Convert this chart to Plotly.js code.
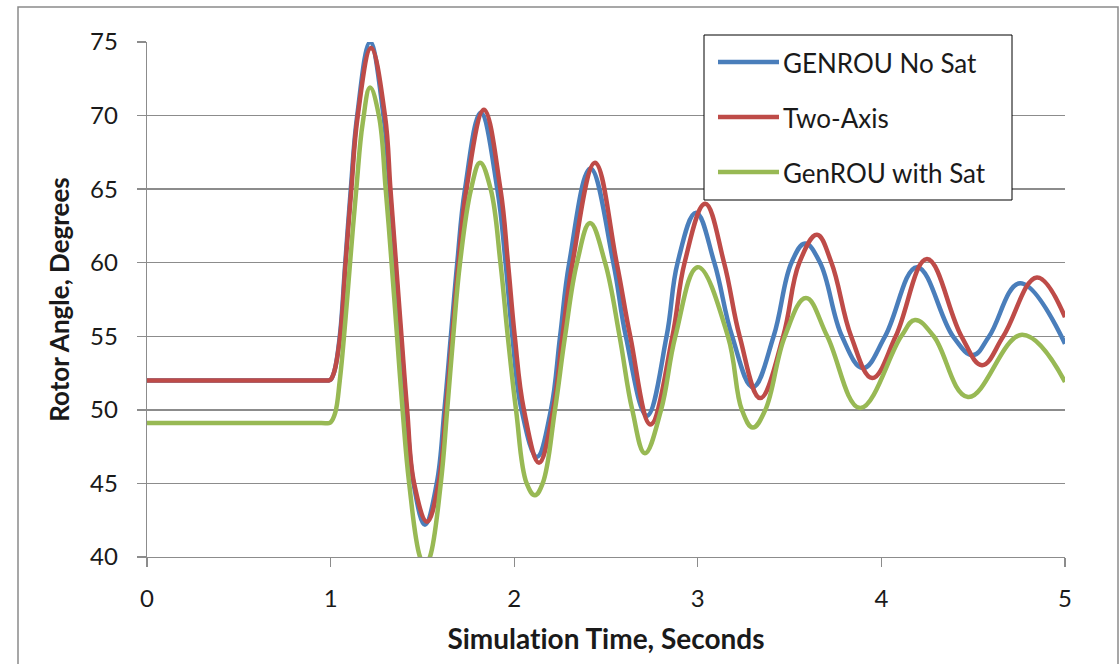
<!DOCTYPE html>
<html>
<head>
<meta charset="utf-8">
<script src="https://cdn.plot.ly/plotly-3.0.1.min.js"></script>
<style>
html,body{margin:0;padding:0;background:#fff;}
#chart{width:1120px;height:664px;}
#chart text{font-variant-ligatures:none;font-feature-settings:"liga" 0;}
</style>
</head>
<body>
<div id="chart"></div>
<script>
// ---- Data ----
const seriesNames = ["GENROU No Sat", "Two-Axis", "GenROU with Sat"];

const genrouNoSatTime = [0, 0.5, 0.95, 0.99, 1.0, 1.02, 1.05, 1.08, 1.11, 1.145, 1.215, 1.288, 1.322, 1.352, 1.382, 1.413, 1.452, 1.514,
  1.578, 1.62, 1.655, 1.69, 1.732, 1.818, 1.908, 1.953, 1.99, 2.04, 2.124,
  2.2, 2.25, 2.30, 2.415, 2.54, 2.608, 2.723,
  2.83, 2.89, 2.99, 3.09, 3.187, 3.30, 3.413, 3.51, 3.584, 3.666, 3.785, 3.90,
  4.02, 4.194, 4.39, 4.499, 4.587, 4.755, 5.0];
const genrouNoSatAngle = [52.0, 52.0, 52.0, 52.0, 52.05, 52.6, 55.0, 60.0, 65.0, 70.0, 75.0, 70.0, 65.0, 60.0, 55.0, 50.0, 45.0, 42.2,
  45.0, 50.0, 55.0, 60.0, 65.0, 70.2, 65.0, 60.0, 55.0, 50.0, 46.8,
  50.0, 55.0, 60.0, 66.4, 60.0, 55.0, 49.6,
  55.0, 60.0, 63.4, 60.0, 55.0, 51.55, 55.0, 60.0, 61.3, 60.0, 55.0, 52.84,
  55.0, 59.7, 55.0, 53.72, 55.0, 58.6, 54.5];

const twoAxisTime = [0, 0.5, 0.95, 0.99, 1.0, 1.02, 1.052, 1.082, 1.113, 1.148, 1.22, 1.296, 1.326, 1.356, 1.386, 1.417, 1.455, 1.525,
  1.588, 1.628, 1.662, 1.697, 1.74, 1.835, 1.925, 1.966, 2.003, 2.053, 2.135,
  2.212, 2.263, 2.318, 2.44, 2.558, 2.632, 2.742,
  2.862, 2.928, 3.04, 3.143, 3.228, 3.34, 3.465, 3.553, 3.649, 3.728, 3.835, 3.95,
  4.078, 4.248, 4.436, 4.548, 4.664, 4.847, 5.0];
const twoAxisAngle = [52.0, 52.0, 52.0, 52.0, 52.05, 52.6, 55.0, 60.0, 65.0, 70.0, 74.6, 70.0, 65.0, 60.0, 55.0, 50.0, 45.0, 42.4,
  45.0, 50.0, 55.0, 60.0, 65.0, 70.4, 65.0, 60.0, 55.0, 50.0, 46.4,
  50.0, 55.0, 60.0, 66.8, 60.0, 55.0, 49.0,
  55.0, 60.0, 64.0, 60.0, 55.0, 50.8, 55.0, 60.0, 61.9, 60.0, 55.0, 52.16,
  55.0, 60.25, 55.0, 53.04, 55.0, 59.0, 56.3];

const genrouSatTime = [0, 0.5, 0.95, 0.99, 1.0, 1.025, 1.05, 1.08, 1.106, 1.14, 1.175, 1.215, 1.263, 1.30, 1.332, 1.362, 1.392, 1.428, 1.487, 1.514,
  1.541, 1.60, 1.635, 1.668, 1.705, 1.765, 1.814, 1.872, 1.925, 1.965, 2.01, 2.068, 2.113,
  2.155, 2.222, 2.277, 2.342, 2.413, 2.495, 2.574, 2.643, 2.712,
  2.80, 2.878, 3.0, 3.164, 3.24, 3.30, 3.368, 3.474, 3.589, 3.705, 3.884,
  4.108, 4.183, 4.285, 4.472, 4.766, 5.0];
const genrouSatAngle = [49.1, 49.1, 49.1, 49.1, 49.15, 49.8, 52.0, 56.0, 60.0, 65.0, 69.5, 71.9, 70.0, 65.0, 60.0, 55.0, 50.0, 45.0, 40.0, 39.4,
  40.0, 45.0, 50.0, 55.0, 60.0, 65.0, 66.8, 65.0, 60.0, 55.0, 50.0, 45.0, 44.2,
  45.0, 50.0, 55.0, 60.0, 62.7, 60.0, 55.0, 50.0, 47.05,
  50.0, 55.0, 59.7, 55.0, 50.0, 48.8, 50.0, 55.0, 57.6, 55.0, 50.12,
  55.0, 56.1, 55.0, 50.87, 55.1, 51.9];

const xTickVals = [0, 1, 2, 3, 4, 5];
const yTickVals = [40, 45, 50, 55, 60, 65, 70, 75];
const seriesColors = ["#4a7ebb", "#be4b48", "#98b954"];

// ---- Plot ----
const FONT = "Lato, 'Open Sans', sans-serif";
const TXT = "#1a1a1a";
const times = [genrouNoSatTime, twoAxisTime, genrouSatTime];
const angles = [genrouNoSatAngle, twoAxisAngle, genrouSatAngle];

const traces = seriesNames.map((n, i) => ({
  x: times[i], y: angles[i], name: n, type: "scatter", mode: "lines",
  line: {color: seriesColors[i], width: 4.5, shape: "spline", smoothing: 1.15},
  showlegend: false, hoverinfo: "skip"
}));

// plot area in pixels: left 147, right 1065, top 42, bottom 557
const L = 147, R = 1065, T = 42, B = 557;
const px = v => (v - L) / (R - L);
const py = v => (B - v) / (B - T);

const shapes = [
  {type: "rect", xref: "paper", yref: "paper", x0: px(18), x1: px(1118), y0: py(720), y1: py(7),
   line: {color: "#8a8a8a", width: 1.5}, fillcolor: "rgba(0,0,0,0)", layer: "below"},
  {type: "rect", xref: "paper", yref: "paper", x0: px(704), x1: px(1012), y0: py(200), y1: py(35),
   line: {color: "#000", width: 1}, fillcolor: "#fff", layer: "above"}
];
const annotations = [];
const legendY = [62, 117, 172];
seriesNames.forEach((n, i) => {
  shapes.push({type: "line", xref: "paper", yref: "paper", x0: px(718), x1: px(779), y0: py(legendY[i]), y1: py(legendY[i]),
    line: {color: seriesColors[i], width: 4.5}, layer: "above"});
  annotations.push({xref: "paper", yref: "paper", x: px(781), y: py(legendY[i] + 1), text: n, showarrow: false,
    xanchor: "left", yanchor: "middle", font: {family: FONT, size: 26, color: TXT}});
});

const layout = {
  width: 1120, height: 664,
  margin: {l: L, r: 1120 - R, t: T, b: 664 - B, pad: 0},
  paper_bgcolor: "#fff", plot_bgcolor: "#fff",
  font: {family: FONT, color: TXT},
  xaxis: {
    range: [0, 5], tickvals: xTickVals, ticktext: xTickVals.map(String),
    showgrid: false, zeroline: false, showline: true, linecolor: "#8c8c8c", linewidth: 1.3,
    ticks: "outside", ticklen: 9, tickcolor: "#8c8c8c", tickwidth: 1.3,
    ticklabelstandoff: 11,
    tickfont: {family: FONT, size: 24, color: TXT},
    title: {text: "<b>Simulation Time, Seconds</b>", font: {family: FONT, size: 28, color: TXT}, standoff: 18},
    fixedrange: true
  },
  yaxis: {
    range: [40, 75], tickvals: yTickVals, ticktext: yTickVals.map(String),
    showgrid: true, gridcolor: "#8c8c8c", gridwidth: 1.3, zeroline: false,
    showline: true, linecolor: "#8c8c8c", linewidth: 1.3,
    ticks: "outside", ticklen: 9, tickcolor: "#8c8c8c", tickwidth: 1.3,
    ticklabelstandoff: 14,
    tickfont: {family: FONT, size: 24, color: TXT},
    title: {text: "<b>Rotor Angle, Degrees</b>", font: {family: FONT, size: 26, color: TXT}, standoff: 13},
    fixedrange: true
  },
  shapes: shapes,
  annotations: annotations,
  showlegend: false
};

Plotly.newPlot("chart", traces, layout, {displayModeBar: false, staticPlot: true});
</script>
</body>
</html>
